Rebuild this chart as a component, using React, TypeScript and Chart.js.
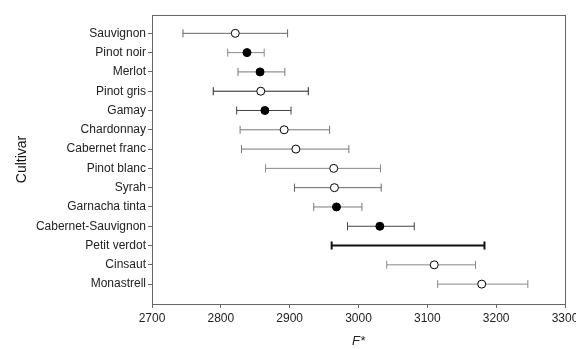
import React, { useEffect, useRef } from "react";
import { Chart, registerables } from "chart.js";

Chart.register(...registerables);

const cultivars = [
  "Sauvignon",
  "Pinot noir",
  "Merlot",
  "Pinot gris",
  "Gamay",
  "Chardonnay",
  "Cabernet franc",
  "Pinot blanc",
  "Syrah",
  "Garnacha tinta",
  "Cabernet-Sauvignon",
  "Petit verdot",
  "Cinsaut",
  "Monastrell",
];
const means: (number | null)[] = [2821, 2838, 2857, 2858, 2864, 2892, 2909, 2964, 2965, 2968, 3031, null, 3110, 3179];
const lows = [2745, 2810, 2825, 2789, 2823, 2828, 2830, 2865, 2907, 2935, 2984, 2961, 3041, 3115];
const highs = [2897, 2863, 2893, 2927, 2902, 2958, 2986, 3032, 3033, 3005, 3081, 3183, 3170, 3246];
const filled = [false, true, true, false, true, false, false, false, false, true, true, false, false, false];
const xTicks = [2700, 2800, 2900, 3000, 3100, 3200, 3300];

const whiskerColors = ["#666", "#888", "#777", "#222", "#444", "#777", "#777", "#888", "#666", "#777", "#444", "#111", "#888", "#888"];
const whiskerWidths = [1, 1, 1, 1, 1, 1, 1, 1, 1, 1, 1, 2, 1, 1];

const errorBarPlugin = {
  id: "errorBars",
  beforeDatasetsDraw(chart: any) {
    const { ctx, scales } = chart;
    const xs = scales.x;
    const ys = scales.y;
    ctx.save();
    for (let i = 0; i < cultivars.length; i++) {
      const y = ys.getPixelForValue(i);
      const x1 = xs.getPixelForValue(lows[i]);
      const x2 = xs.getPixelForValue(highs[i]);
      ctx.strokeStyle = whiskerColors[i];
      ctx.lineWidth = whiskerWidths[i];
      ctx.beginPath();
      ctx.moveTo(x1, y);
      ctx.lineTo(x2, y);
      ctx.moveTo(x1, y - 4);
      ctx.lineTo(x1, y + 4);
      ctx.moveTo(x2, y - 4);
      ctx.lineTo(x2, y + 4);
      ctx.stroke();
    }
    ctx.restore();
  },
  afterDraw(chart: any) {
    const { ctx, chartArea } = chart;
    ctx.save();
    ctx.strokeStyle = "#666";
    ctx.lineWidth = 1;
    ctx.strokeRect(chartArea.left + 0.5, chartArea.top + 0.5, chartArea.right - chartArea.left, chartArea.bottom - chartArea.top);
    ctx.restore();
  },
};

export default function App() {
  const ref = useRef<HTMLCanvasElement>(null);
  useEffect(() => {
    document.body.style.margin = "0";
    const points = cultivars
      .map((_, i) => ({ x: means[i], y: i, f: filled[i] }))
      .filter((p) => p.x !== null);
    const chart = new Chart(ref.current!, {
      type: "scatter",
      data: {
        datasets: [
          {
            data: points.map((p) => ({ x: p.x as number, y: p.y })),
            backgroundColor: points.map((p) => (p.f ? "#000" : "#fff")),
            borderColor: "#000",
            borderWidth: 1,
            pointRadius: 4,
          },
        ],
      },
      options: {
        responsive: false,
        animation: false,
        layout: { padding: { top: 15, right: 11, left: 0, bottom: 0 } },
        plugins: { legend: { display: false }, tooltip: { enabled: false } },
        scales: {
          x: {
            type: "linear",
            min: 2700,
            max: 3300,
            afterBuildTicks: (s: any) => {
              s.ticks = xTicks.map((v) => ({ value: v }));
            },
            afterFit: (s: any) => {
              s.height = 45;
              s.paddingLeft = 0;
              s.paddingRight = 0;
            },
            grid: { drawOnChartArea: false, drawTicks: true, tickLength: 4, color: "#666" },
            border: { display: true, color: "#666" },
            ticks: {
              padding: 3,
              color: "#222",
              font: { family: "Liberation Sans, Arial, sans-serif", size: 12 },
              maxRotation: 0,
              callback: (v: any) => String(v),
            },
            title: {
              display: true,
              text: "F*",
              color: "#222",
              padding: { top: 0, bottom: 0 },
              font: { family: "Liberation Sans, Arial, sans-serif", size: 13, style: "italic" },
            },
          },
          y: {
            type: "linear",
            reverse: true,
            min: -0.95,
            max: 14.03,
            afterBuildTicks: (s: any) => {
              s.ticks = cultivars.map((_, i) => ({ value: i }));
            },
            afterFit: (s: any) => {
              s.width = 152;
              s.paddingTop = 0;
              s.paddingBottom = 0;
            },
            grid: { drawOnChartArea: false, drawTicks: true, tickLength: 4, color: "#666" },
            border: { display: true, color: "#666" },
            ticks: {
              padding: 2,
              autoSkip: false,
              color: "#222",
              font: { family: "Liberation Sans, Arial, sans-serif", size: 12 },
              callback: (v: any) => cultivars[v as number] ?? "",
            },
            title: {
              display: true,
              text: "Cultivar",
              color: "#111",
              padding: { top: 14, bottom: 0 },
              font: { family: "Liberation Sans, Arial, sans-serif", size: 14 },
            },
          },
        },
      },
      plugins: [errorBarPlugin],
    });
    return () => chart.destroy();
  }, []);
  return (
    <div style={{ width: 576, height: 349, background: "#fff" }}>
      <canvas ref={ref} width={576} height={349} />
    </div>
  );
}
